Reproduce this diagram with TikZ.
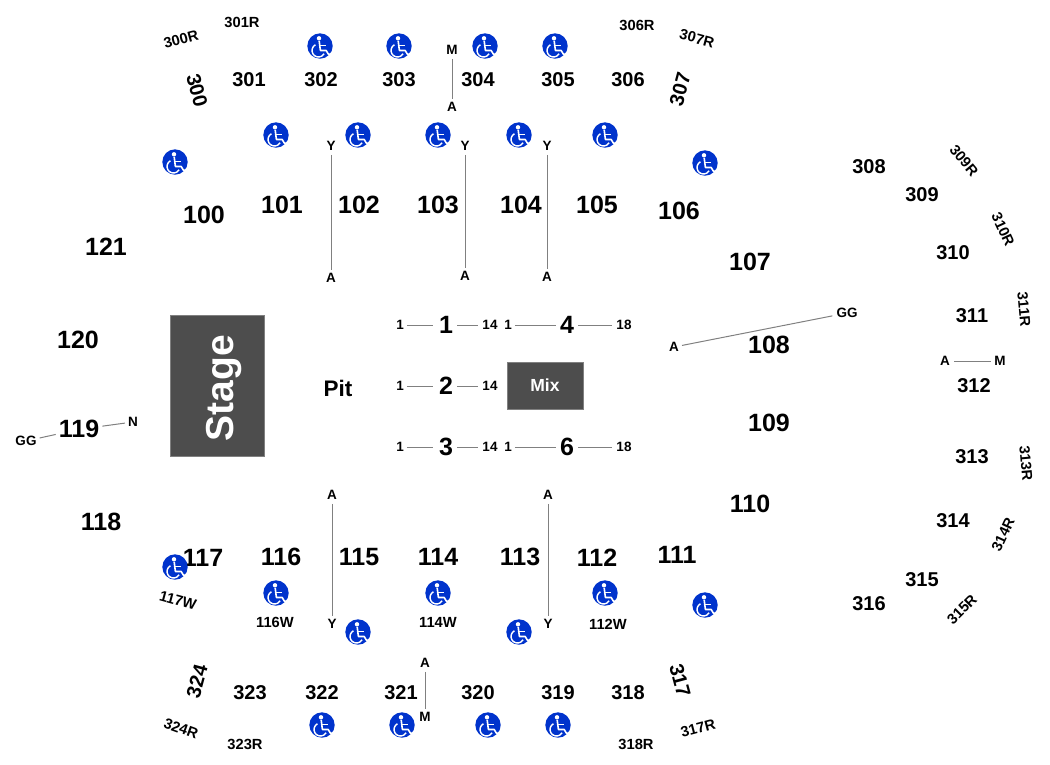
\documentclass[tikz,border=0pt]{standalone}
\usepackage{fontspec}
\setmainfont{Liberation Sans}
\definecolor{wblue}{HTML}{0033CC}
\definecolor{dgray}{HTML}{4D4D4D}
\definecolor{lgray}{HTML}{808080}
\tikzset{
  x=1pt,y=-1pt,
  big/.style={font=\fontsize{25}{25}\bfseries\selectfont,inner sep=0pt,yshift=-0.3pt},
  mid/.style={font=\fontsize{20}{20}\bfseries\selectfont,inner sep=0pt,yshift=-0.5pt},
  small/.style={font=\fontsize{14.7}{14.7}\bfseries\selectfont,inner sep=0pt,yshift=-0.5pt},
  tiny/.style={font=\fontsize{13.5}{13.5}\bfseries\selectfont,inner sep=0pt},
  rownum/.style={font=\fontsize{25}{25}\bfseries\selectfont,inner sep=0pt},
  conn/.style={draw=lgray,line width=1pt},
  block/.style={fill=dgray,draw=lgray,line width=0.5pt,inner sep=0pt,text=white},
  wheel/.pic={
    \fill[wblue] (0,0) circle (12.7);
    \fill[white] (-1,-7.7) circle (2.2);
    \draw[white,line width=1.6pt,line join=round]
      (-0.8,-5) -- (0.4,4.5) -- (6.2,4.5) -- (8.8,8.8) -- (10.8,7.6);
    \draw[white,line width=1.3pt] (-0.3,-0.8) -- (5.6,-0.8);
    \draw[white,line width=1.4pt] (-4.55,-1.24) arc[start angle=242,end angle=30,radius=6.5];
  }
}
\begin{document}
\begin{tikzpicture}
\useasboundingbox (0,0) rectangle (1050,764);
% big sections
\foreach \t/\x/\y in {100/204/215,101/282/205,102/359/205,103/438/205,104/521/205,105/597/205,106/679/211,107/750/262,108/769/345,109/769/423,110/750/504,111/677/555,112/597/557,113/520/557,114/438/557,115/359/557,116/281/557,117/203/558,118/101/522,120/78/340,121/106/246}
  \node[big] (s\t) at (\x,\y) {\t};
% mid sections
\foreach \t/\x/\y/\r in {300/197/90/-75,301/249/79/0,302/321/79/0,303/399/79/0,304/478/79/0,305/558/79/0,306/628/79/0,307/680/89/75,308/869/166/0,309/922/194/0,310/953/252/0,311/972/315/0,312/974/385/0,313/972/456/0,314/953/520/0,315/922/579/0,316/869/603/0,317/680/680/-75,318/628/692/0,319/558/692/0,320/478/692/0,321/401/692/0,322/322/692/0,323/250/692/0,324/197/681/75}
  \node[mid,rotate=\r] (s\t) at (\x,\y) {\t};
% small labels
\foreach \t/\x/\y/\r in {300R/181/39/15,301R/242/22/0,306R/637/25/0,307R/697/38/-15,309R/964/160/-50,310R/1003/229/-65,311R/1024/309/-85,313R/1026/463/-85,314R/1003/534/65,315R/962/609/45,317R/698/728/15,318R/636/744/0,323R/245/744/0,324R/181/728/-20,117W/178/600/-15,116W/275/622/0,114W/438/622/0,112W/608/624/0}
  \node[small,rotate=\r] (s\t) at (\x,\y) {\t};
% wheelchairs
\foreach \x/\y in {320/46,399/46,485/46,555/46,276/135,358/135,438/135,519/135,605/135,175/162,705/163,175/567,276/593,438/593,605/593,705/605,358/632,519/632,322/725,402/725,488/725,558/725}
  \pic at (\x,\y) {wheel};
% blocks
\node[block,minimum width=94pt,minimum height=141pt] (stage) at (217.5,385.5) {};
\node[text=white,rotate=90,inner sep=0pt,font=\fontsize{39}{39}\bfseries\selectfont] (stagelbl) at (224,388) {Stage};
\node[block,minimum width=76pt,minimum height=47pt,font=\fontsize{17.5}{17.5}\bfseries\selectfont] (mix) at (545,385.5) {Mix};
\node[mid,font=\fontsize{22.5}{22.5}\bfseries\selectfont] (pit) at (338,388) {Pit};
% aisle connectors
\foreach \n/\tp/\px/\py/\bt/\qx/\qy in {a/M/452/50/A/452/107,b/Y/331/146/A/331/278,c/Y/465/146/A/465/276,d/Y/547/146/A/547/277,e/A/332/495/Y/332/624,f/A/548/495/Y/548/624,g/A/425/663/M/425/717,h/A/945/361/M/1000/361,i/GG/847/313/A/674/347}{
  \node[tiny] (\n1) at (\px,\py) {\tp};
  \node[tiny] (\n2) at (\qx,\qy) {\bt};
  \draw[conn,shorten >=3pt,shorten <=4pt] (\n1) -- (\n2);
}
% 119 row
\node[big] (s119) at (79,429) {119};
\node[tiny] (gg) at (26,441) {GG};
\node[tiny] (n) at (133,422) {N};
\draw[conn,shorten >=3pt,shorten <=3pt] (gg) -- (s119);
\draw[conn,shorten >=3pt,shorten <=3pt] (s119) -- (n);
% rows
\foreach \r/\y/\m in {1/325/1,2/386/2,3/447/3}{
  \node[tiny] (l\r) at (400,\y) {1};
  \node[rownum] (m\r) at (446,\y) {\m};
  \node[tiny] (e\r) at (490,\y) {14};
  \draw[conn,shorten >=6pt,shorten <=3pt] (l\r) -- (m\r);
  \draw[conn,shorten >=4pt,shorten <=4pt] (m\r) -- (e\r);
}
\foreach \r/\y/\m in {4/325/4,6/447/6}{
  \node[tiny] (l\r) at (508,\y) {1};
  \node[rownum] (m\r) at (567,\y) {\m};
  \node[tiny] (e\r) at (624,\y) {18};
  \draw[conn,shorten >=4pt,shorten <=3pt] (l\r) -- (m\r);
  \draw[conn,shorten >=4pt,shorten <=4pt] (m\r) -- (e\r);
}
\end{tikzpicture}
\end{document}
